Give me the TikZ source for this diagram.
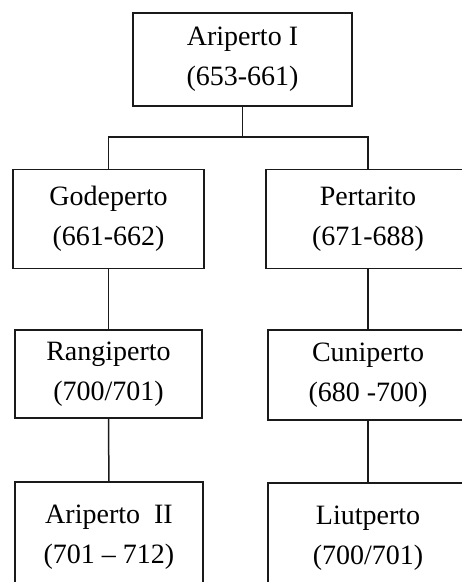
\documentclass[tikz,border=0pt]{standalone}
\usepackage{fontspec}
\setmainfont{Liberation Serif}
\definecolor{darkline}{HTML}{1A1A1A}
\tikzset{
  king/.style={
    rectangle,
    draw=darkline,
    line width=1.5pt,
    align=center,
    inner sep=0pt,
    font=\fontsize{28}{40}\selectfont
  },
  link/.style={draw=darkline, line width=1.5pt}
}
\begin{document}
\begin{tikzpicture}[x=1pt, y=-1pt]

% Canvas.
\useasboundingbox (0,0) rectangle (462,582);
\clip (0,0) rectangle (462,582);

% Kings.
\node[king, minimum width=219pt, minimum height=93pt] (aripertoI) at (242.5,59.5) {Ariperto I\\(653-661)};
\node[king, minimum width=191pt, minimum height=99pt] (godeperto) at (108.5,219) {Godeperto\\(661-662)};
\node[king, minimum width=204pt, minimum height=99pt] (pertarito) at (368,219) {Pertarito\\(671-688)};
\node[king, minimum width=187pt, minimum height=88pt] (rangiperto) at (108.5,374) {Rangiperto\\(700/701)};
\node[king, minimum width=200pt, minimum height=90pt] (cuniperto) at (368,375) {Cuniperto\\(680 -700)};
\node[king, minimum width=188pt, minimum height=110pt] (aripertoII) at (109,537) {Ariperto\ \ II\\(701 -- 712)};
\node[king, minimum width=200pt, minimum height=110pt] (liutperto) at (368,538) {Liutperto\\(700/701)};

% Lines of descent.
\coordinate (split) at (242.5,137);
\draw[link] (aripertoI.south) -- (split);
\draw[link] (godeperto.north) |- (split) -| (pertarito.north);
\draw[link] (godeperto) -- (rangiperto);
\draw[link] (rangiperto) -- (aripertoII);
\draw[link] (pertarito) -- (cuniperto);
\draw[link] (cuniperto) -- (liutperto);

\end{tikzpicture}
\end{document}
